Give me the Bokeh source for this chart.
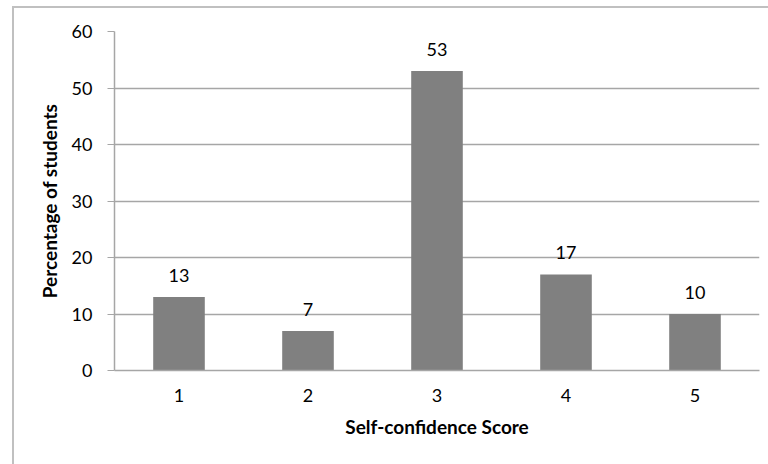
from bokeh.plotting import figure
from bokeh.models import ColumnDataSource, FactorRange, Range1d, FixedTicker, LabelSet
from bokeh.core.properties import value
from bokeh.embed import file_html
from bokeh.resources import INLINE

scores = ["1", "2", "3", "4", "5"]
percentages = [13, 7, 53, 17, 10]
y_ticks = [0, 10, 20, 30, 40, 50, 60]

FONT = "Lato"

src = ColumnDataSource(dict(x=scores, y=percentages, lbl=[str(v) for v in percentages]))

p = figure(width=756, height=458, x_range=FactorRange(*scores), y_range=Range1d(0, 60),
           output_backend="svg", toolbar_location=None,
           min_border_left=100, min_border_right=11, min_border_top=23, min_border_bottom=96)
p.margin = (6, 0, 0, 12)
p.styles = {"border-left": "2px solid #c0c0c0", "border-top": "2px solid #c0c0c0",
            "box-sizing": "border-box"}
p.outline_line_color = None

p.vbar(x="x", top="y", width=0.4, source=src, fill_color="#808080", line_color=None)

labels = LabelSet(x="x", y="y", text="lbl", source=src, text_align="center",
                  text_baseline="bottom", y_offset=15, text_font=value(FONT),
                  text_font_size=value("18px"), text_color="#000000")
p.add_layout(labels)

p.xgrid.grid_line_color = None
p.ygrid.grid_line_color = "#a6a6a6"
p.ygrid.grid_line_width = 1.5
p.yaxis.ticker = FixedTicker(ticks=y_ticks)

for ax in (p.xaxis[0], p.yaxis[0]):
    ax.axis_line_color = "#a6a6a6"
    ax.axis_line_width = 1.5
    ax.major_label_text_font = FONT
    ax.major_label_text_font_size = "18px"
    ax.major_label_text_color = "#000000"
    ax.axis_label_text_font = FONT
    ax.axis_label_text_font_size = "19px"
    ax.axis_label_text_font_style = "bold"
    ax.axis_label_text_color = "#000000"
    ax.minor_tick_line_color = None

p.yaxis.major_tick_out = 7
p.yaxis.major_tick_in = 0
p.yaxis.major_tick_line_color = "#a6a6a6"
p.yaxis.major_label_standoff = 15
p.yaxis.axis_label = "Percentage of students"
p.yaxis.axis_label_standoff = 8

p.xaxis.major_tick_line_color = None
p.xaxis.major_label_standoff = 12
p.xaxis.axis_label = "Self-confidence Score"
p.xaxis.axis_label_standoff = 10

open("out.html", "w").write(file_html(p, INLINE))
